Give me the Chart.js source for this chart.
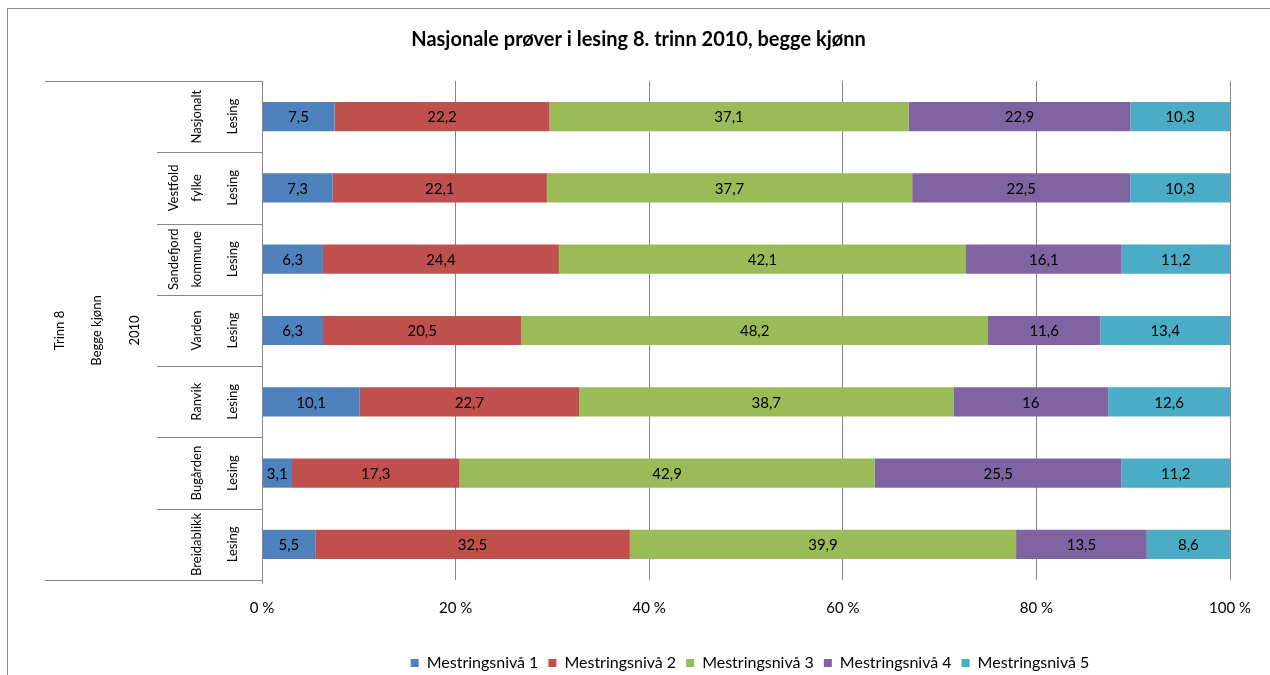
<!DOCTYPE html>
<html>
<head>
<meta charset="utf-8">
<script src="https://cdn.jsdelivr.net/npm/chart.js@4.4.1/dist/chart.umd.min.js"></script>
<style>
  html, body { margin: 0; padding: 0; background: #fff; }
  #wrap { width: 1270px; height: 675px; position: relative; }
</style>
</head>
<body>
<div id="wrap"><canvas id="chart" width="1270" height="675"></canvas></div>
<script>
// Nasjonale prøver i lesing - 100% stacked bars

const schools = ["Nasjonalt", "Vestfold fylke", "Sandefjord kommune", "Varden", "Ranvik", "Bugården", "Breidablikk"];
const subject = "Lesing";
const outerLevels = ["Trinn 8", "Begge kjønn", "2010"];
const levels = ["Mestringsnivå 1", "Mestringsnivå 2", "Mestringsnivå 3", "Mestringsnivå 4", "Mestringsnivå 5"];
const level1 = [7.5, 7.3, 6.3, 6.3, 10.1, 3.1, 5.5];
const level2 = [22.2, 22.1, 24.4, 20.5, 22.7, 17.3, 32.5];
const level3 = [37.1, 37.7, 42.1, 48.2, 38.7, 42.9, 39.9];
const level4 = [22.9, 22.5, 16.1, 11.6, 16, 25.5, 13.5];
const level5 = [10.3, 10.3, 11.2, 13.4, 12.6, 11.2, 8.6];
const xTicks = [0, 20, 40, 60, 80, 100];

const colors = ["#4F81BD", "#C0504D", "#9BBB59", "#8064A2", "#4BACC6"];
const series = [level1, level2, level3, level4, level5];
const FONT = "Lato";
const LINE = "#868686";

// totals per row, used to scale each row to 100 %
const totals = schools.map((_, i) => series.reduce((s, arr) => s + arr[i], 0));

const datasets = series.map((arr, k) => ({
  label: levels[k],
  data: arr.map((v, i) => (v / totals[i]) * 100),
  raw: arr,
  backgroundColor: colors[k],
  borderWidth: 0,
  barPercentage: 0.41,
  categoryPercentage: 1.0,
}));

const frame = {
  id: "frame",
  beforeDraw(chart) {
    const ctx = chart.ctx;
    ctx.save();
    ctx.fillStyle = "#fff";
    ctx.fillRect(0, 0, chart.width, chart.height);
    ctx.strokeStyle = "#8c8c8c";
    ctx.lineWidth = 1;
    ctx.strokeRect(7.5, 8.5, 1400, 800);
    ctx.restore();
  },
};

// put the legend centred under the plot, like the original
const legendPlace = {
  id: "legendPlace",
  afterLayout(chart) {
    const lg = chart.legend;
    if (!lg) return;
    const area = chart.chartArea;
    lg.right = area.right;
    lg.left = 2 * 750 - area.right;
    lg.top = 645;
  },
};

const valueLabels = {
  id: "valueLabels",
  afterDatasetsDraw(chart) {
    const ctx = chart.ctx;
    ctx.save();
    ctx.font = "15px " + FONT;
    ctx.fillStyle = "#000";
    ctx.textAlign = "center";
    ctx.textBaseline = "middle";
    chart.data.datasets.forEach((ds, k) => {
      chart.getDatasetMeta(k).data.forEach((bar, i) => {
        const x = (bar.x + bar.base) / 2;
        ctx.fillText(String(ds.raw[i]).replace(".", ","), x, bar.y + 1);
      });
    });
    ctx.restore();
  },
};

const categoryAxis = {
  id: "categoryAxis",
  afterDraw(chart) {
    const ctx = chart.ctx;
    const y = chart.scales.y;
    const area = chart.chartArea;
    const left = 45, mid = 157, right = area.left;
    ctx.save();
    ctx.strokeStyle = LINE;
    ctx.lineWidth = 1;
    ctx.beginPath();
    ctx.moveTo(left, Math.round(area.top) + 0.5);
    ctx.lineTo(right, Math.round(area.top) + 0.5);
    ctx.moveTo(left, Math.round(area.bottom) + 0.5);
    ctx.lineTo(right, Math.round(area.bottom) + 0.5);
    ctx.moveTo(Math.round(right) + 0.5, area.top);
    ctx.lineTo(Math.round(right) + 0.5, area.bottom + 4);
    for (let i = 0; i < schools.length - 1; i++) {
      const b = Math.round((y.getPixelForValue(i) + y.getPixelForValue(i + 1)) / 2) + 0.5;
      ctx.moveTo(mid, b);
      ctx.lineTo(right, b);
    }
    ctx.stroke();

    ctx.fillStyle = "#000";
    ctx.font = "13px " + FONT;
    ctx.textAlign = "center";
    ctx.textBaseline = "middle";
    const rot = (text, x, cy) => {
      ctx.save();
      ctx.translate(x, cy);
      ctx.rotate(-Math.PI / 2);
      ctx.fillText(text, 0, 0);
      ctx.restore();
    };
    schools.forEach((name, i) => {
      const cy = y.getPixelForValue(i);
      const parts = name.split(" ");
      if (parts.length > 1) {
        rot(parts[0], 174, cy);
        rot(parts[1], 197, cy);
      } else {
        rot(name, 197, cy);
      }
      rot(subject, 233, cy);
    });
    const cMid = (area.top + area.bottom) / 2;
    [60, 97, 135].forEach((x, k) => rot(outerLevels[k], x, cMid));
    ctx.restore();
  },
};

new Chart(document.getElementById("chart"), {
  type: "bar",
  data: { labels: schools, datasets },
  plugins: [frame, legendPlace, valueLabels, categoryAxis],
  options: {
    indexAxis: "y",
    responsive: false,
    animation: false,
    layout: { padding: { left: 45, right: 38, top: 0, bottom: 0 } },
    scales: {
      x: {
        stacked: true,
        min: 0,
        max: 100,
        afterBuildTicks(scale) {
          scale.ticks = xTicks.map((v) => ({ value: v }));
        },
        afterFit(scale) {
          scale.height = 59;
        },
        grid: { color: LINE, drawTicks: false },
        border: { display: false },
        ticks: {
          color: "#000",
          font: { family: FONT, size: 15 },
          padding: 19,
          callback: (v) => v + " %",
        },
      },
      y: {
        stacked: true,
        grid: { display: false },
        border: { display: false },
        ticks: { display: false },
        afterFit(scale) {
          scale.width = 217;
        },
      },
    },
    plugins: {
      title: {
        display: true,
        text: "Nasjonale prøver i lesing 8. trinn 2010, begge kjønn",
        color: "#000",
        font: { family: FONT, size: 20, weight: "bold" },
        padding: { top: 28, bottom: 29 },
      },
      legend: {
        position: "bottom",
        labels: {
          color: "#000",
          font: { family: FONT, size: 16 },
          boxWidth: 8,
          boxHeight: 8,
          padding: 10,
        },
      },
      tooltip: { enabled: false },
    },
  },
});
</script>
</body>
</html>
